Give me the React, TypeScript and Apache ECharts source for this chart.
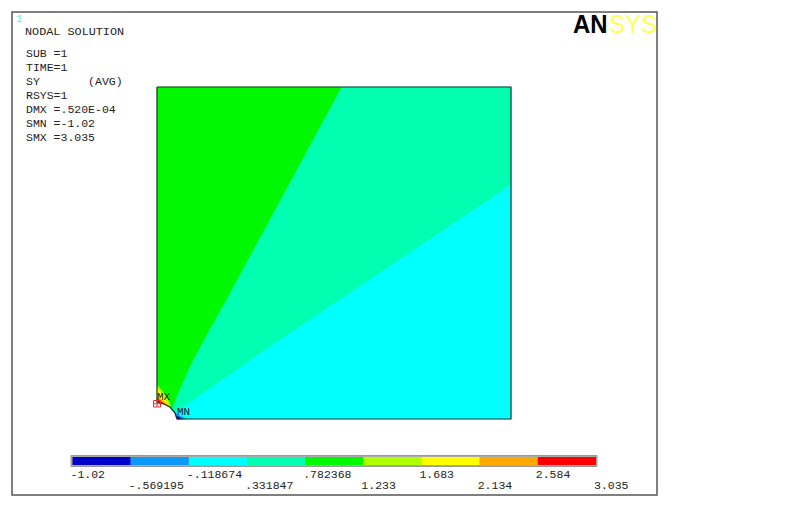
import React, { useEffect, useRef } from "react";
import * as echarts from "echarts";

const levels = [-1.02, -0.569195, -0.118674, 0.331847, 0.782368, 1.233, 1.683, 2.134, 2.584, 3.035];
const levelLabels = ["-1.02", "-.569195", "-.118674", ".331847", ".782368", "1.233", "1.683", "2.134", "2.584", "3.035"];
const bandColors = ["#0000cc", "#0c98f6", "#00ffff", "#00ffb0", "#00f800", "#aeff00", "#ffff00", "#ffaa00", "#ff0000"];
const infoLines = ["SUB =1", "TIME=1", "SY       (AVG)", "RSYS=1", "DMX =.520E-04", "SMN =-1.02", "SMX =3.035"];

// Plate in model units, origin at bottom-left, hole at the origin corner.
const plateWidth = 354;
const plateHeight = 332;
const regionGreen = [[0, 332], [185, 332], [68, 116], [50, 84], [33, 52], [23, 29], [16, 12], [15, 9], [13, 12], [0, 34]];
const regionTeal = [[185, 332], [354, 332], [354, 234], [113, 72], [18, 6], [15, 9], [16, 12], [23, 29], [33, 52], [50, 84], [68, 116]];
const regionCyan = [[354, 234], [354, 0], [20, 0], [18, 6], [113, 72]];
const regionLime = [[0, 34], [7, 26], [12, 17], [14, 11], [7, 15], [0, 17]];
const regionYellow = [[0, 30], [5, 24], [9, 17], [13, 12], [7, 15], [0, 17]];
const regionOrange = [[0, 22], [5, 19], [10, 15], [13, 12], [7, 15], [0, 17]];
const regionRed = [[0, 19], [4, 17.5], [7, 15], [0, 17]];
const regionMidBlue = [[18, 6], [23, 3], [29, 0], [20, 0]];
const regionDarkBlue = [[19, 3], [22, 2], [25, 0], [20, 0]];
const holeArc = [[0, 17], [7, 15], [13, 12], [18, 6], [20, 0]];
const plateRegions = [
  { pts: regionGreen, color: "#00f800" },
  { pts: regionTeal, color: "#00ffb0" },
  { pts: regionCyan, color: "#00ffff" },
  { pts: regionLime, color: "#aeff00" },
  { pts: regionYellow, color: "#ffff00" },
  { pts: regionOrange, color: "#ffaa00" },
  { pts: regionRed, color: "#ff0000" },
  { pts: regionMidBlue, color: "#0c98f6" },
  { pts: regionDarkBlue, color: "#0000cc" },
];
const plateOutline = [[0, 332], [354, 332], [354, 0], ...holeArc.slice().reverse(), [0, 332]];

const mono = "'Liberation Mono', monospace";

export default function App() {
  const ref = useRef<HTMLDivElement>(null);
  useEffect(() => {
    const chart = echarts.init(ref.current!, null, { renderer: "svg" });
    const hidden = { show: false };
    chart.setOption({
      animation: false,
      backgroundColor: "#ffffff",
      grid: [
        { left: 157, top: 87, width: 354, height: 332 },
        { left: 72.5, top: 457, width: 523.5, height: 8 },
      ],
      xAxis: [
        { type: "value", min: 0, max: plateWidth, gridIndex: 0, ...hidden },
        { type: "value", min: -1.02, max: 3.035, gridIndex: 1, ...hidden },
      ],
      yAxis: [
        { type: "value", min: 0, max: plateHeight, gridIndex: 0, ...hidden },
        { type: "value", min: 0, max: 1, gridIndex: 1, ...hidden },
      ],
      series: [
        {
          type: "custom",
          xAxisIndex: 0,
          yAxisIndex: 0,
          data: plateRegions.map((_, i) => [i]),
          silent: true,
          clip: false,
          renderItem: (_p: any, api: any) => {
            const r = plateRegions[api.value(0)];
            return {
              type: "polygon",
              shape: { points: r.pts.map((q) => api.coord(q)) },
              style: { fill: r.color, stroke: r.color, lineWidth: 0.5 },
            };
          },
        },
        {
          type: "line",
          xAxisIndex: 0,
          yAxisIndex: 0,
          data: plateOutline,
          symbol: "none",
          silent: true,
          clip: false,
          lineStyle: { color: "#22302c", width: 1.2 },
        },
        {
          type: "custom",
          xAxisIndex: 1,
          yAxisIndex: 1,
          data: bandColors.map((_, i) => [i]),
          silent: true,
          clip: false,
          renderItem: (_p: any, api: any) => {
            const i = api.value(0);
            const a = api.coord([levels[i], 1]);
            const b = api.coord([levels[i + 1], 0]);
            return {
              type: "rect",
              shape: { x: a[0], y: a[1], width: b[0] - a[0], height: b[1] - a[1] },
              style: { fill: bandColors[i] },
            };
          },
        },
        {
          type: "custom",
          xAxisIndex: 1,
          yAxisIndex: 1,
          data: levels.map((_, i) => [i]),
          silent: true,
          clip: false,
          renderItem: (_p: any, api: any) => {
            const i = api.value(0);
            const a = api.coord([levels[i], 0]);
            return {
              type: "text",
              x: a[0] - 2,
              y: i % 2 === 0 ? 474 : 485,
              style: {
                text: levelLabels[i],
                font: `11.5px ${mono}`,
                fill: "#222222",
                verticalAlign: "middle",
                align: "left",
              },
            };
          },
        },
      ],
      graphic: [
        { type: "rect", z: -1, shape: { x: 12, y: 12, width: 645, height: 483 }, style: { fill: "#fff", stroke: "#555", lineWidth: 1.5 } },
        { type: "rect", z: -1, shape: { x: 71, y: 455.5, width: 526, height: 11 }, style: { fill: "#aaa", stroke: "#999", lineWidth: 1 } },
        { type: "text", x: 16, y: 19, style: { text: "1", font: `11px ${mono}`, fill: "#55eee8", verticalAlign: "middle" } },
        { type: "text", x: 25, y: 32, style: { text: "NODAL SOLUTION", font: `11.8px ${mono}`, fill: "#222", verticalAlign: "middle" } },
        ...infoLines.map((t, i) => ({
          type: "text",
          x: 26,
          y: 53 + i * 14,
          style: { text: t, font: `11.5px ${mono}`, fill: "#222", verticalAlign: "middle" },
        })),
        { type: "text", z: 20, x: 157, y: 397, style: { text: "MX", font: `11px ${mono}`, fill: "#222", verticalAlign: "middle" } },
        { type: "text", z: 20, x: 177, y: 412, style: { text: "MN", font: `11px ${mono}`, fill: "#123", verticalAlign: "middle" } },
        { type: "rect", z: 20, shape: { x: 153.5, y: 400.5, width: 7, height: 6.5 }, style: { fill: "transparent", stroke: "#e83030", lineWidth: 1 } },
        { type: "line", z: 20, shape: { x1: 153.5, y1: 403.75, x2: 160.5, y2: 403.75 }, style: { stroke: "#e83030", lineWidth: 1 } },
        { type: "line", z: 20, shape: { x1: 157, y1: 400.5, x2: 157, y2: 407 }, style: { stroke: "#e83030", lineWidth: 1 } },
        { type: "text", x: 573, y: 23.5, scaleX: 0.92, style: { text: "AN", font: "900 26px 'Liberation Sans'", fill: "#000", verticalAlign: "middle" } },
        { type: "text", x: 609, y: 23.5, scaleX: 0.92, style: { text: "SYS", font: "26px 'Liberation Sans'", fill: "#ffff55", verticalAlign: "middle" } },
      ],
    });
    return () => chart.dispose();
  }, []);
  return <div ref={ref} style={{ position: "fixed", left: 0, top: 0, width: 800, height: 507 }} />;
}
